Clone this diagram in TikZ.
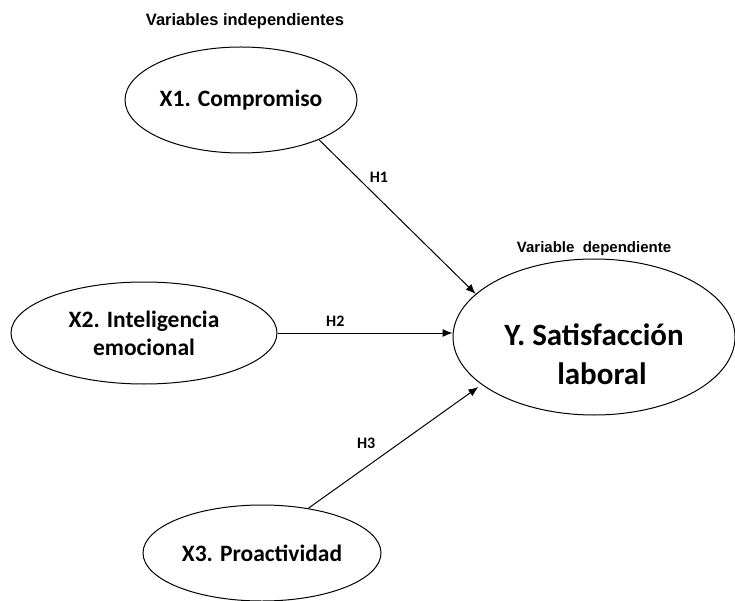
\documentclass[tikz,border=0pt]{standalone}
\usepackage{fontspec}
\setmainfont{Carlito}
\newfontfamily\arialfont{Liberation Sans}
\usetikzlibrary{arrows.meta, positioning, shapes.geometric}

\begin{document}
\begin{tikzpicture}[x=1pt, y=-1pt,
	construct/.style={ellipse, draw, line width=1pt, inner sep=0pt, align=center,
		font=\fontsize{23.5}{28}\selectfont\bfseries},
	ytext/.style={font=\fontsize{31}{39}\selectfont\bfseries, align=center, inner sep=0pt},
	hyp/.style={-{Latex[length=10pt, width=8pt]}, line width=1pt},
	hlabel/.style={font=\fontsize{16}{18}\selectfont\bfseries},
	heading/.style={font=\arialfont\bfseries\fontsize{16.5}{18}\selectfont}]
	\useasboundingbox (0,0) rectangle (735,601);

	% headings
	\node[heading] (indep) at (245,21) {Variables independientes};
	\node[heading, font=\arialfont\bfseries\fontsize{15}{18}\selectfont] (dep) at (594,249) {Variable\ \ dependiente};

	% constructs
	\node[construct, minimum width=232pt, minimum height=106pt] (x1) at (241,100) {X1. Compromiso};
	\node[construct, minimum width=266pt, minimum height=102pt] (x2) at (144,333) {X2. Inteligencia\\emocional};
	\node[construct, minimum width=238pt, minimum height=96pt] (x3) at (262,553) {X3. Proactividad};
	\node[construct, minimum width=282pt, minimum height=156pt,
		label={[ytext, yshift=-17pt]center:{Y. Satisfacción\\\hspace*{16pt}laboral}}] (y) at (594,337) {};

	% hypotheses
	\draw[hyp] (x1.-27) -- (y.160) node[hlabel, pos=0.3, anchor=south west] (h1) {H1};
	\draw[hyp] (x2.east) -- (x2.east -| y.west) node[hlabel, pos=0.33, above, yshift=3pt] (h2) {H2};
	\draw[hyp, shorten >=4pt] (x3.44) -- (y.203) node[hlabel, pos=0.42, anchor=south east, xshift=-2pt, yshift=4pt] (h3) {H3};
\end{tikzpicture}
\end{document}
